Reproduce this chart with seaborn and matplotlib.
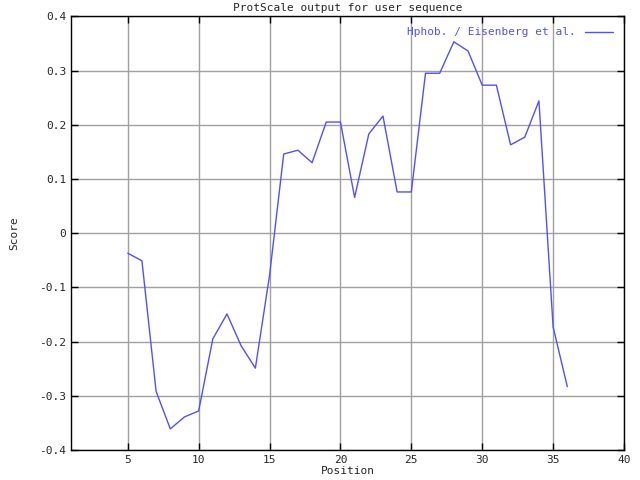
import numpy as np
import pandas as pd
import matplotlib
matplotlib.use("Agg")
import matplotlib.pyplot as plt
import seaborn as sns

# Hydrophobicity profile (Eisenberg scale), window centred positions
positions = list(range(5, 37))
scores = [-0.037, -0.051, -0.292, -0.361, -0.339, -0.328, -0.195, -0.149,
          -0.208, -0.249, -0.078, 0.146, 0.153, 0.130, 0.205, 0.205,
          0.066, 0.183, 0.216, 0.076, 0.076, 0.295, 0.295, 0.353,
          0.336, 0.273, 0.273, 0.163, 0.177, 0.244, -0.173, -0.283]

x_ticks = [5, 10, 15, 20, 25, 30, 35, 40]
y_ticks = [-0.4, -0.3, -0.2, -0.1, 0, 0.1, 0.2, 0.3, 0.4]
y_tick_labels = ["-0.4", "-0.3", "-0.2", "-0.1", "0", "0.1", "0.2", "0.3", "0.4"]

df = pd.DataFrame({"Position": positions, "Score": scores})

sns.set_style("ticks")
plt.rcParams["font.family"] = ["DejaVu Sans Mono"]
plt.rcParams["font.size"] = 8

line_color = "#5050ff"

fig, ax = plt.subplots(figsize=(6.4, 4.8), dpi=100)
fig.subplots_adjust(left=0.111, right=0.975, top=0.966, bottom=0.0625)

sns.lineplot(data=df, x="Position", y="Score", ax=ax, color=line_color,
             linewidth=1.0, label="Hphob. / Eisenberg et al.")

ax.set_xlim(1, 40)
ax.set_ylim(-0.4, 0.4)
ax.set_xticks(x_ticks)
ax.set_yticks(y_ticks)
ax.set_yticklabels(y_tick_labels)
ax.grid(True, color="#a0a0a0", linewidth=1.0)
ax.tick_params(direction="in", length=5, width=1, top=True, right=True,
               color="black", labelsize=8)
for s in ax.spines.values():
    s.set_color("black")
    s.set_linewidth(1.0)

ax.set_title("ProtScale output for user sequence", fontsize=8, pad=4)
ax.set_xlabel("Position", fontsize=8, labelpad=1)
ax.set_ylabel("Score", fontsize=8, labelpad=14)

leg = ax.legend(loc="upper right", frameon=False, markerfirst=False,
                handlelength=2.5, fontsize=8, borderaxespad=0.6)
for t in leg.get_texts():
    t.set_color(line_color)

fig.savefig("out.png", dpi=100)
